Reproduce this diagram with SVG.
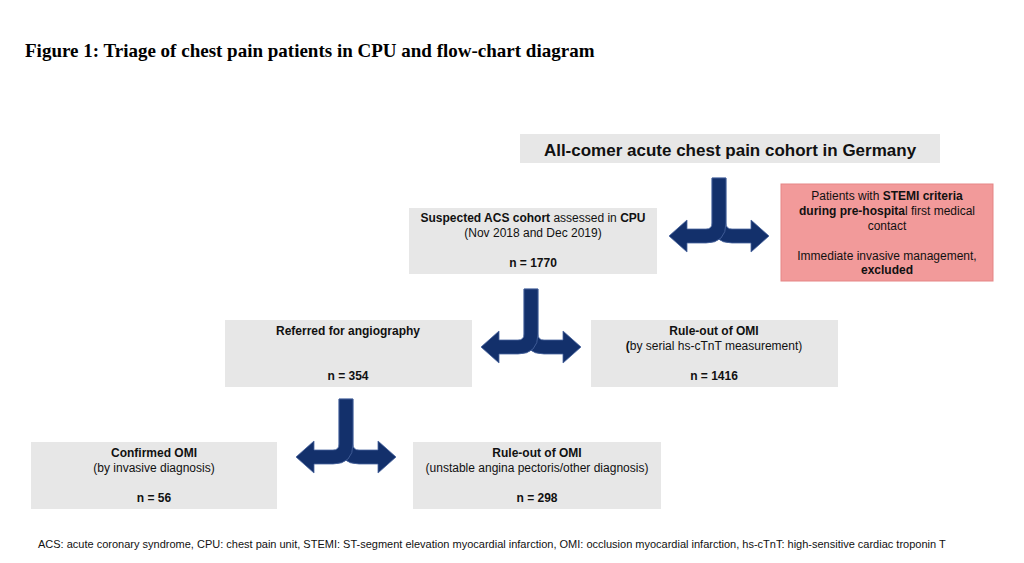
<svg xmlns="http://www.w3.org/2000/svg" width="1024" height="563" viewBox="0 0 1024 563">
<style>
.box{fill:#e7e7e7}
.t{font-family:"Liberation Sans",Arial,sans-serif;font-size:12px;fill:#111;text-anchor:middle}
.b{font-weight:bold}
.arr{fill:#13306b;stroke:#4a66a0;stroke-width:0.8}
</style>
<defs>
<g id="split">
<path class="arr" d="M-7,0 H7 V45 Q7,51 13,51 H32 V42 L50,58 L32,74 V65 H13 Q-7,65 -7,45 Z"/>
<path class="arr" d="M-7,0 H7 V45 Q7,65 -13,65 H-32 V74 L-50,58 L-32,42 V51 H-13 Q-7,51 -7,45 Z"/>
</g>
</defs>
<rect width="1024" height="563" fill="#fff"/>
<text x="25" y="57" font-family="Liberation Serif,serif" font-size="19" font-weight="bold" fill="#000">Figure 1: Triage of chest pain patients in CPU and flow-chart diagram</text>
<g id="connectors">
<use href="#split" x="719" y="178"/>
<use href="#split" x="531" y="289"/>
<use href="#split" x="346" y="399"/>
</g>
<g id="n0"><rect class="box" x="520" y="134" width="420" height="29"/>
<text class="t b" x="730" y="156" font-size="17" style="font-size:17px">All-comer acute chest pain cohort in Germany</text></g>
<g id="n1"><rect x="781" y="184" width="212" height="97" fill="#f29a9a" stroke="#e58585"/>
<text class="t" x="887" y="200">Patients with <tspan class="b">STEMI criteria</tspan></text>
<text class="t" x="887" y="215"><tspan class="b">during pre-hospita</tspan>l first medical</text>
<text class="t" x="887" y="230">contact</text>
<text class="t" x="887" y="260">Immediate invasive management,</text>
<text class="t b" x="887" y="274">excluded</text></g>
<g id="n2"><rect class="box" x="409" y="208" width="248" height="66"/>
<text class="t" x="533" y="222"><tspan class="b">Suspected ACS cohort</tspan> assessed in <tspan class="b">CPU</tspan></text>
<text class="t" x="533" y="237">(Nov 2018 and Dec 2019)</text>
<text class="t b" x="533" y="267">n = 1770</text></g>
<g id="n3"><rect class="box" x="225" y="320" width="247" height="67"/>
<text class="t b" x="348" y="335">Referred for angiography</text>
<text class="t b" x="348" y="380">n = 354</text></g>
<g id="n4"><rect class="box" x="591" y="320" width="247" height="67"/>
<text class="t b" x="714" y="335">Rule-out of OMI</text>
<text class="t" x="714" y="350"><tspan class="b">(</tspan>by serial hs-cTnT measurement)</text>
<text class="t b" x="714" y="380">n = 1416</text></g>
<g id="n5"><rect class="box" x="31" y="442" width="246" height="67"/>
<text class="t b" x="154" y="457">Confirmed OMI</text>
<text class="t" x="154" y="472">(by invasive diagnosis)</text>
<text class="t b" x="154" y="502">n = 56</text></g>
<g id="n6"><rect class="box" x="413" y="442" width="248" height="67"/>
<text class="t b" x="537" y="457">Rule-out of OMI</text>
<text class="t" x="537" y="472">(unstable angina pectoris/other diagnosis)</text>
<text class="t b" x="537" y="502">n = 298</text></g>
<text x="38" y="548" font-family="Liberation Sans,Arial,sans-serif" font-size="11" fill="#111">ACS: acute coronary syndrome, CPU: chest pain unit, STEMI: ST-segment elevation myocardial infarction, OMI: occlusion myocardial infarction, hs-cTnT: high-sensitive cardiac troponin T</text>
</svg>
